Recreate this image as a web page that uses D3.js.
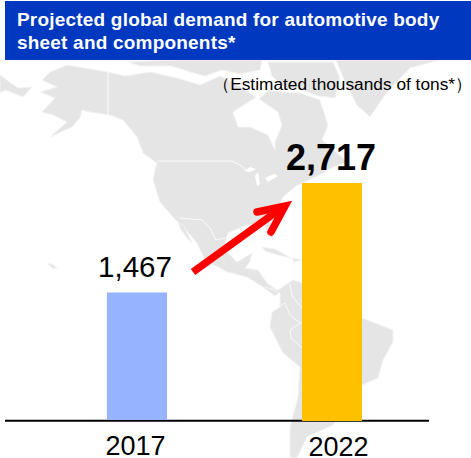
<!DOCTYPE html>
<html>
<head>
<meta charset="utf-8">
<script src="https://cdn.jsdelivr.net/npm/d3@7"></script>
<style>
html,body{margin:0;padding:0;background:#fff;overflow:hidden}
svg{display:block}
text{font-family:"Liberation Sans",Arial,sans-serif;fill:#000}
</style>
</head>
<body>
<svg id="c" width="471" height="458"></svg>
<script>
// Chart data
const years = ["2017", "2022"];
const demand = [1467, 2717];
const demandLabels = ["1,467", "2,717"];
const barColors = ["#95b3ff", "#ffc000"];
const titleLines = ["Projected global demand for automotive body", "sheet and components*"];
const unitLabel = "（Estimated thousands of tons*）";

// Decorative background map outlines
const mapNorthAmerica = [[67,65],[108,72],[125,76],[150,72],[177,78],[200,85],[220,76],[236,84],[256,97],[233,112],[238,127],[250,127],[268,135],[275,150],[275,142],[282,125],[278,112],[259,99],[268,91],[300,93],[320,100],[328,125],[322,140],[336,152],[348,162],[333,167],[318,176],[296,186],[283,197],[278,208],[270,223],[273,240],[267,232],[264,224],[247,225],[228,233],[225,243],[228,253],[237,262],[252,253],[250,262],[245,268],[258,270],[267,283],[280,292],[275,296],[263,287],[247,277],[227,272],[205,260],[197,243],[186,230],[173,217],[160,202],[153,180],[155,170],[157,163],[143,153],[137,137],[123,120],[110,115],[90,112],[82,110],[80,118],[72,127],[50,137],[67,122],[53,115],[42,112],[55,98],[40,92],[57,87],[42,80],[50,72]];
const mapBaja = [[178,222],[184,226],[192,243],[187,238],[180,228]];
const mapArctic = [[128,62],[175,60],[262,60],[260,70],[240,74],[222,70],[205,76],[190,72],[172,66],[140,66]];
const mapBaffin = [[268,62],[333,62],[340,78],[335,98],[318,96],[300,89],[285,88],[272,76]];
const mapGreenland = [[336,60],[440,60],[410,68],[387,92],[370,117],[357,105],[345,82]];
const mapSiberia = [[0,75],[18,88],[32,87],[23,97],[5,90],[0,93]];
const mapSouthAmerica = [[265,287],[278,290],[293,280],[302,283],[330,300],[362,318],[393,330],[393,342],[383,360],[378,378],[362,385],[345,405],[333,425],[307,437],[297,458],[290,458],[290,427],[298,397],[300,367],[283,353],[270,327],[272,312],[280,307],[280,293]];
const mapCuba = [[262,247],[275,249],[291,258],[278,255],[265,251]];
const mapHispaniola = [[292,258],[302,260],[294,262]];
const mapHawaii = [[47,263],[54,265],[57,269],[52,268]];
const mapLakes = [[[244,171],[250,167],[256,169],[250,172]],[[255,176],[258,172],[260,184],[257,186]],[[265,178],[274,174],[278,176],[268,182]]];
const mapBorders = [
  [[108,72],[108,115]],
  [[157,161],[232,161],[240,165],[246,170]],
  [[180,218],[202,220],[210,228],[216,240],[225,238]],
  [[272,312],[285,303],[290,315],[300,323]],
  [[290,284],[292,296],[302,308]],
  [[302,322],[290,330],[291,338],[302,348]]
];

// Annotation arrow
const arrowShaft = [[193,272],[283,207]];
const arrowHead = [[257,212],[285,206],[271,232]];

const svg = d3.select("#c");
const line = d3.line();

// Map
const land = svg.append("g").attr("fill", "#e5e5e5").attr("stroke", "#f4f4f4").attr("stroke-width", 1);
[mapNorthAmerica, mapBaja, mapArctic, mapBaffin, mapGreenland, mapSiberia, mapSouthAmerica, mapCuba, mapHispaniola, mapHawaii]
  .forEach(p => land.append("path").attr("d", line(p) + "Z"));
const lakes = svg.append("g").attr("fill", "#fff");
mapLakes.forEach(p => lakes.append("path").attr("d", line(p) + "Z"));
const borders = svg.append("g").attr("fill", "none").attr("stroke", "#fbfbfb").attr("stroke-width", 1);
mapBorders.forEach(p => borders.append("path").attr("d", line(p)));

// Title banner
svg.append("rect").attr("x", 5).attr("y", 1).attr("width", 466).attr("height", 59).attr("fill", "#0038c0");
svg.selectAll("text.title").data(titleLines).enter().append("text")
  .attr("class", "title")
  .attr("x", 17)
  .attr("y", (d, i) => 26 + i * 23)
  .attr("font-size", 19)
  .attr("font-weight", "bold")
  .attr("letter-spacing", 0.2)
  .style("fill", "#fff")
  .text(d => d);

svg.append("text").attr("x", 472).attr("y", 90).attr("text-anchor", "end")
  .attr("font-size", 17.3).text(unitLabel);

// Scales
const x = d3.scalePoint().domain(years).range([137, 332]);
const y = d3.scaleLinear().domain([0, 2717]).range([421, 183]);
const barW = 60;

// Axis
const axis = d3.axisBottom(x).tickSize(0).tickPadding(14);
const ax = svg.append("g").attr("transform", "translate(0,420.8)").call(axis);
ax.select(".domain").remove();
ax.selectAll("text").attr("font-size", 27).attr("font-family", "Liberation Sans").style("fill", "#000")
  .attr("dx", (d, i) => [-2, 6][i]).attr("dy", (d, i) => [20, 21][i]);
svg.append("line").attr("x1", 5).attr("x2", 429).attr("y1", 420.8).attr("y2", 420.8)
  .attr("stroke", "#000").attr("stroke-width", 2);

// Bars
svg.selectAll("rect.bar").data(demand).enter().append("rect")
  .attr("class", "bar")
  .attr("x", (d, i) => x(years[i]) - barW / 2)
  .attr("y", d => y(d))
  .attr("width", barW)
  .attr("height", (d, i) => y(0) - y(d) - (i === 0 ? 1 : 0))
  .attr("fill", (d, i) => barColors[i]);

// Value labels
svg.selectAll("text.val").data(demand).enter().append("text")
  .attr("class", "val")
  .attr("x", (d, i) => x(years[i]) + [-2, -1][i])
  .attr("y", (d, i) => y(d) - [15, 13][i])
  .attr("text-anchor", "middle")
  .attr("font-size", (d, i) => [29.5, 36][i])
  .attr("font-weight", (d, i) => ["normal", "bold"][i])
  .text((d, i) => demandLabels[i]);

// Arrow
svg.append("path").attr("d", line(arrowShaft)).attr("fill", "none").attr("stroke", "#ff0000").attr("stroke-width", 7.5);
svg.append("path").attr("d", line(arrowHead)).attr("fill", "none").attr("stroke", "#ff0000")
  .attr("stroke-width", 7.5).attr("stroke-linecap", "round").attr("stroke-linejoin", "miter");
</script>
</body>
</html>
